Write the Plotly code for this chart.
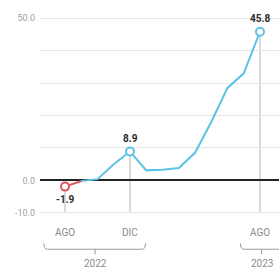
import plotly.graph_objects as go

# ---- data ----
months = ["AGO 2022", "SEP 2022", "OCT 2022", "NOV 2022", "DIC 2022",
          "ENE 2023", "FEB 2023", "MAR 2023", "ABR 2023", "MAY 2023",
          "JUN 2023", "JUL 2023", "AGO 2023"]
values = [-1.9, -0.2, 0.4, 5.0, 8.9, 3.1, 3.3, 3.8, 8.5, 18.0, 28.5, 33.0, 45.8]
highlight_idx = [0, 4, 12]
month_labels = ["AGO", "DIC", "AGO"]
years = ["2022", "2023"]
year_spans = [(-1.3, 4.95), (10.8, 14.0)]
year_centers = [1.85, 12.1]
ytick_vals = [-10, 0, 10, 20, 30, 40, 50]
ytick_text = ["-10.0", "0.0", "", "", "", "", "50.0"]

BLUE = "#5bc3e6"
RED = "#e0555f"
X_RANGE = [-1.54, 13.17]
Y_RANGE = [-12.5, 52.5]

x = list(range(len(values)))

fig = go.Figure()

# vertical reference lines for highlighted months
for i in highlight_idx:
    fig.add_shape(type="line", x0=x[i], x1=x[i], y0=-10, y1=values[i],
                  xref="x", yref="y", line=dict(color="#b5b5b5", width=1),
                  layer="below")

# red segment (below zero)
fig.add_trace(go.Scatter(x=x[0:2], y=values[0:2], mode="lines",
                         line=dict(color=RED, width=2), hoverinfo="skip",
                         showlegend=False))
# blue line
fig.add_trace(go.Scatter(x=x[1:], y=values[1:], mode="lines",
                         line=dict(color=BLUE, width=2), hoverinfo="skip",
                         showlegend=False))
# markers
mcolors = [RED if values[i] < 0 else BLUE for i in highlight_idx]
fig.add_trace(go.Scatter(
    x=[x[i] for i in highlight_idx], y=[values[i] for i in highlight_idx],
    mode="markers", cliponaxis=False,
    marker=dict(size=8, color="white", line=dict(color=mcolors, width=2)),
    showlegend=False, hoverinfo="skip"))


# helpers to convert to paper coords for decorations outside plot area
def px(v):
    return (v - X_RANGE[0]) / (X_RANGE[1] - X_RANGE[0])


def py(v):
    return (v - Y_RANGE[0]) / (Y_RANGE[1] - Y_RANGE[0])


# value labels
for i in highlight_idx:
    v = values[i]
    fig.add_annotation(x=x[i], y=py(v), text="<b>%s</b>" % ("%.1f" % v),
                       showarrow=False, xref="x", yref="paper",
                       xanchor="center", yanchor="middle",
                       yshift=-13 if v < 0 else 13,
                       font=dict(size=10, color="#2b2b2b", family="Roboto"))

# month labels below axis
for i, lab in zip(highlight_idx, month_labels):
    fig.add_annotation(x=px(x[i]), y=py(-16.0), text=lab, showarrow=False,
                       xref="paper", yref="paper",
                       xanchor="center", yanchor="middle",
                       font=dict(size=10, color="#8a8a8a", family="Roboto"))

for (a, b), c, yr in zip(year_spans, year_centers, years):
    xa, xb, xc = px(a), px(b), px(c)
    ytop, ybot, ytick = py(-19.4), py(-21.2), py(-22.8)
    r = 0.014
    path = (f"M {xa},{ytop} Q {xa},{ybot} {xa + r},{ybot} "
            f"L {xb - r},{ybot} Q {xb},{ybot} {xb},{ytop} "
            f"M {xc},{ybot} L {xc},{ytick}")
    fig.add_shape(type="path", path=path, xref="paper", yref="paper",
                  line=dict(color="#9a9a9a", width=1))
    fig.add_annotation(x=px(c), y=py(-25.5), text=yr, showarrow=False,
                       xref="paper", yref="paper",
                       xanchor="center", yanchor="middle",
                       font=dict(size=10, color="#8a8a8a", family="Roboto"))

fig.update_layout(
    width=279, height=272,
    margin=dict(l=40, r=0, t=10, b=51.4, autoexpand=False),
    paper_bgcolor="white", plot_bgcolor="white",
    font=dict(family="Roboto", size=9, color="#999999"),
    xaxis=dict(range=X_RANGE, showgrid=False, zeroline=False, automargin=False,
               showticklabels=False, ticks="", showline=False, fixedrange=True),
    yaxis=dict(range=Y_RANGE, tickvals=ytick_vals, ticktext=ytick_text,
               showgrid=True, gridcolor="#e6e6e6", gridwidth=1, automargin=False,
               zeroline=True, zerolinecolor="#222222", zerolinewidth=1.5,
               ticks="", ticklabelstandoff=4,
               tickfont=dict(size=9, color="#a0a0a0", family="Roboto"),
               fixedrange=True),
)

fig.write_html("out.html", config={"displayModeBar": False},
               post_script="document.body.style.margin='0';"
                           "document.body.style.overflow='hidden';")
